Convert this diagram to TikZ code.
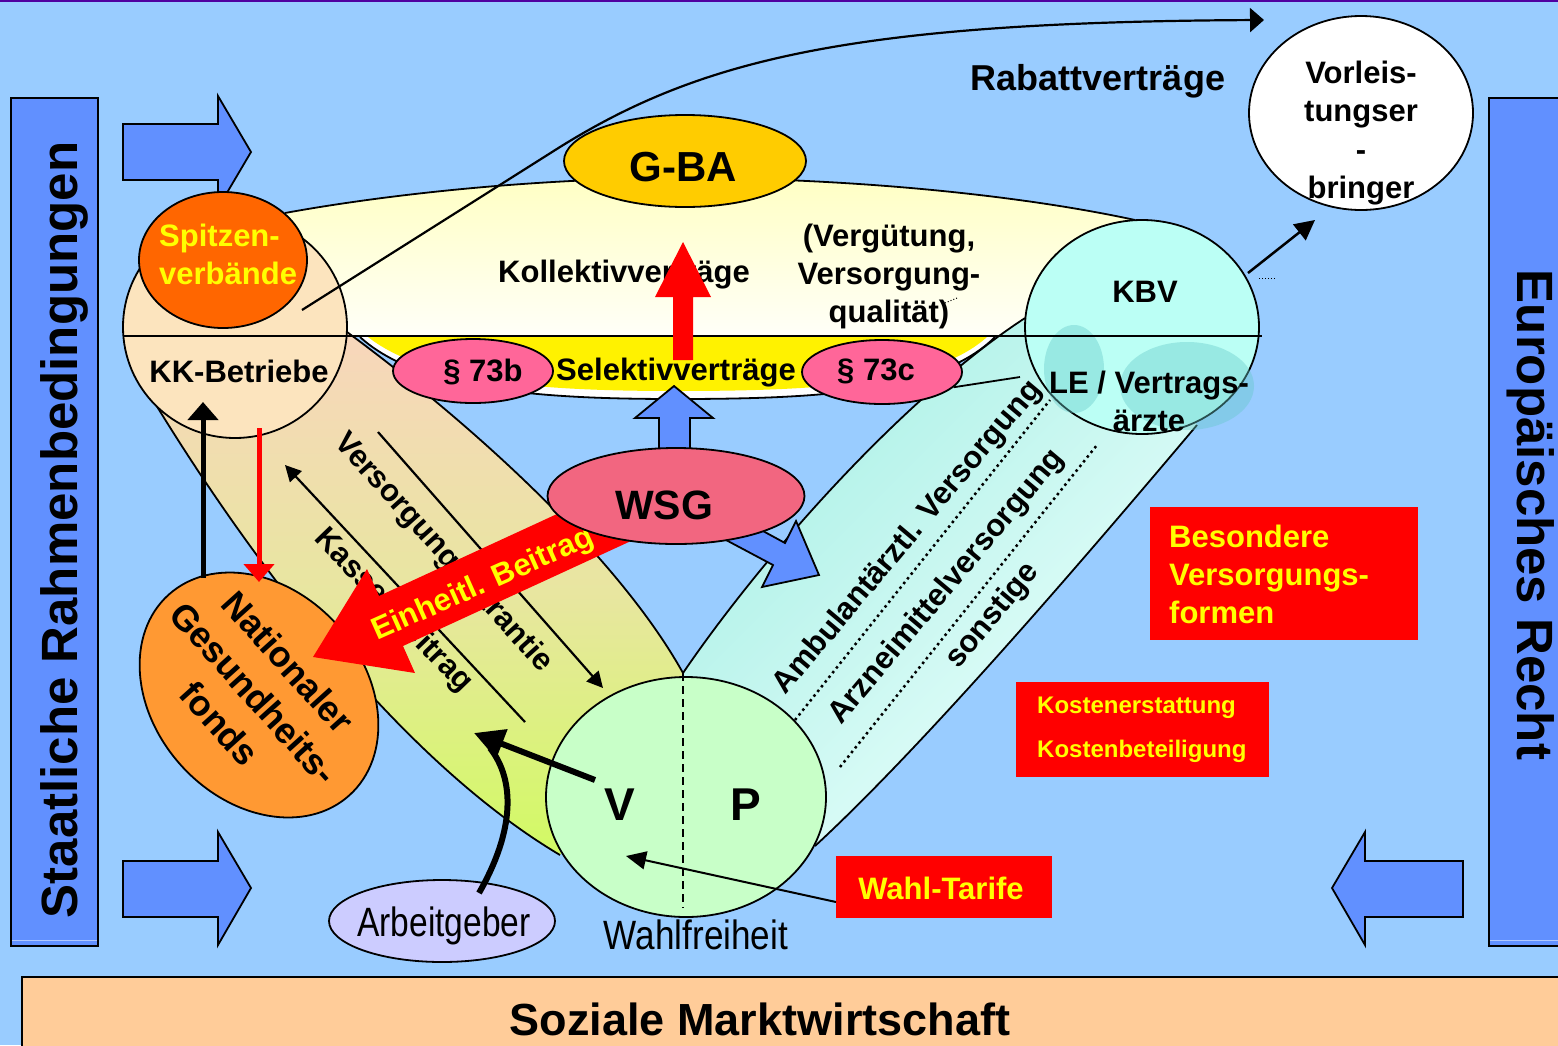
\documentclass[tikz,border=0pt]{standalone}
\usepackage{fontspec}
\setmainfont{Liberation Sans}
\usetikzlibrary{shapes.geometric,arrows.meta}
\definecolor{bgc}{RGB}{153,204,255}
\definecolor{barc}{RGB}{97,144,255}
\definecolor{gbac}{RGB}{255,204,0}
\definecolor{spitzc}{RGB}{255,102,0}
\definecolor{kkc}{RGB}{252,228,190}
\definecolor{parac}{RGB}{255,102,153}
\definecolor{wsgc}{RGB}{242,102,128}
\definecolor{kbvc}{RGB}{187,255,245}
\definecolor{vpc}{RGB}{200,255,200}
\definecolor{natc}{RGB}{255,153,51}
\definecolor{arbc}{RGB}{204,204,255}
\definecolor{sozc}{RGB}{255,204,153}
\definecolor{lensT}{RGB}{255,255,196}
\definecolor{lensB}{RGB}{255,255,248}
\definecolor{lbT}{RGB}{248,214,188}
\definecolor{lbM}{RGB}{232,230,160}
\definecolor{lbB}{RGB}{210,250,100}
\definecolor{rbT}{RGB}{170,240,230}
\definecolor{rbB}{RGB}{235,255,252}
\definecolor{blobc}{RGB}{100,200,200}
\definecolor{toplinec}{RGB}{80,0,160}
\definecolor{txtyel}{RGB}{255,255,0}
\newcommand\fA{\fontsize{31}{38}\selectfont\bfseries}
\newcommand\fN{\fontsize{39}{46}\selectfont\mdseries}
\tikzset{
  ol/.style={draw=black, line width=1.8pt},
  ell/.style={ellipse, ol, inner sep=0pt},
  tx/.style={font=\fA, inner sep=0pt},
  blockarrow/.style={fill=barc, draw=black, line width=1.8pt, line join=miter},
  thinarrow/.style={line width=2.2pt, -{Triangle[length=16pt,width=16pt]}},
  redbox/.style={fill=red, inner sep=0pt},
}
\begin{document}
\begin{tikzpicture}[x=1pt,y=-1pt]
\useasboundingbox (0,0) rectangle (1558,1045);
\clip (0,0) rectangle (1558,1045);
\fill[bgc] (0,0) rectangle (1558,1045);
\draw[toplinec, line width=2pt] (0,1) -- (1558,1);

% side bars
\draw[fill=barc, line width=1.5pt] (11,98) rectangle (98,946);
\draw[barc!50!white, line width=1pt] (12,940) -- (97,940);
\node[rotate=90, font=\fontsize{51}{60}\selectfont\bfseries, inner sep=0pt] (staat) at (64,530) {Staatliche Rahmenbedingungen};
\draw[fill=barc, line width=1.5pt] (1489,98) rectangle (1566,946);
\draw[barc!50!white, line width=1pt] (1490,940) -- (1558,940);
\node[rotate=-90, font=\fontsize{51}{60}\selectfont\bfseries, inner sep=0pt] (eur) at (1531,515) {Europäisches Recht};

% block arrows
\draw[blockarrow] (123,124) -- (218,124) -- (218,96) -- (251,152) -- (218,208) -- (218,180) -- (123,180) -- cycle;
\draw[blockarrow] (123,861) -- (218,861) -- (218,832) -- (251,888) -- (218,945) -- (218,917) -- (123,917) -- cycle;
\draw[blockarrow] (1463,861) -- (1365,861) -- (1365,832) -- (1332,888) -- (1365,945) -- (1365,917) -- (1463,917) -- cycle;

% bottom box
\draw[fill=sozc, line width=2pt] (22,977) rectangle (1570,1060);
\node[font=\fontsize{45}{54}\selectfont\bfseries, anchor=base, inner sep=0pt] (soz) at (760,1035) {Soziale Marktwirtschaft};

% upper lens (Kollektivvertraege)
\shade[top color=lensT, bottom color=lensB] (250,336) -- (250,222) -- (285,213) .. controls (400,192) and (550,178) .. (683,178) .. controls (850,178) and (1020,195) .. (1135,220) -- (1142,336) -- cycle;
\draw[line width=1.8pt] (285,213) .. controls (400,192) and (550,178) .. (683,178) .. controls (850,178) and (1020,195) .. (1135,220);
% lower lens (Selektivvertraege)
\draw[fill=white, line width=1.8pt] (360,337) .. controls (420,392) and (550,399) .. (676,399) .. controls (820,399) and (940,392) .. (995,337);
\fill[yellow] (368,337) .. controls (428,384) and (550,391) .. (676,391) .. controls (820,391) and (935,384) .. (987,337) -- cycle;

% right band
\shade[top color=rbT, bottom color=rbB, shading angle=45] (683,673) .. controls (760,560) and (900,400) .. (1025,318) -- (1142,330) -- (1197,425) .. controls (1100,540) and (930,740) .. (815,846) -- (700,760) -- cycle;
\draw[line width=1.8pt] (683,673) .. controls (760,560) and (900,400) .. (1025,318);
\draw[line width=1.8pt] (815,846) .. controls (930,740) and (1100,540) .. (1197,425);

% left band
\shade[top color=lbT, bottom color=lbB, middle color=lbM] (150,395) .. controls (250,560) and (400,760) .. (560,855) -- (640,760) -- (683,673) .. controls (620,560) and (480,430) .. (347,332) -- (235,330) -- cycle;
\draw[line width=1.8pt] (150,395) .. controls (250,560) and (400,760) .. (560,855);
\draw[line width=1.8pt] (683,673) .. controls (620,560) and (480,430) .. (347,332);

% left band arrows and texts
\coordinate (vgA) at (378,432); \coordinate (vgB) at (603,688);
\coordinate (kbA) at (525,722); \coordinate (kbB) at (285,465);
\draw[thinarrow] (vgA) -- (vgB);
\draw[thinarrow] (kbA) -- (kbB);
\node[tx, rotate=-48] (vg) at (443,553) {Versorgungsgarantie};
\node[tx, rotate=-46] (kb) at (393,611) {Kassenbeitrag};

% right band dotted lines and texts
\draw[line width=2.5pt, dash pattern=on 2.5pt off 3.5pt] (795,720) -- (1050,400);
\draw[line width=2.5pt, dash pattern=on 2.5pt off 3.5pt] (840,767) -- (1097,445);
\node[tx, rotate=50] (amb) at (908,538) {Ambulantärztl. Versorgung};
\node[tx, rotate=50] (arz) at (947,587) {Arzneimittelversorgung};
\node[tx, rotate=50] (son) at (993,616) {sonstige};

% KK circle, Spitzenverbaende
\node[ell, fill=kkc, minimum width=224pt, minimum height=222pt] (kk) at (235,327) {};
\node[ell, fill=spitzc, minimum width=168pt, minimum height=136pt] (spitz) at (223,260) {};
\node[tx, text=txtyel, align=left, anchor=west] (spitzt) at (159,254) {Spitzen-\\verbände};
\node[tx] (kkt) at (239,371) {KK-Betriebe};

% KBV circle
\node[ell, fill=kbvc, minimum width=234pt, minimum height=214pt] (kbv) at (1142,327) {};
\fill[blobc, opacity=0.4] (1074,369) ellipse [x radius=30, y radius=44];
\fill[blobc, opacity=0.4] (1187,386) ellipse [x radius=67, y radius=44];
\node[tx] (kbvt) at (1145,292) {KBV};
\node[tx, align=center] (le) at (1149,401) {LE / Vertrags-\\ärzte};

% horizontal divider
\coordinate (hlA) at (123,336); \coordinate (hlB) at (1262,336);
\draw[line width=2.5pt] (hlA) -- (hlB);

% G-BA
\node[ell, fill=gbac, minimum width=242pt, minimum height=92pt] (gba) at (685,161) {};
\node[font=\fontsize{42}{50}\selectfont\bfseries, inner sep=0pt] (gbat) at (683,167) {G-BA};
\node[tx] (koll) at (624,275) {Kollektivverträge};
\node[tx, align=center] (verg) at (889,276) {(Vergütung,\\Versorgung-\\qualität)};
\fill[red] (673,360) -- (673,297) -- (655,297) -- (683,242) -- (711,297) -- (693,297) -- (693,360) -- cycle;

% paragraphs
\node[ell, fill=parac, minimum width=160pt, minimum height=64pt] (p73b) at (473,371) {};
\node[tx] (p73bt) at (483,372) {§ 73b};
\node[ell, fill=parac, minimum width=160pt, minimum height=64pt] (p73c) at (882,372) {};
\node[tx] (p73ct) at (876,371) {§ 73c};
\node[tx] (sel) at (676,373) {Selektivverträge};
\coordinate (lew) at (1020,377);
\draw[line width=1.8pt] (p73c.-12) -- (lew);

% Nationaler Gesundheitsfonds
\node[ell, fill=natc, rotate=-48, minimum width=270pt, minimum height=210pt] (nat) at (259,695) {};
\node[font=\fontsize{36}{46}\selectfont\bfseries, rotate=-48, align=center, inner sep=0pt] (natt) at (254,693) {Nationaler\\Gesundheits-\\fonds};

% arrows between KK and fonds
\coordinate (upA) at (203,578); \coordinate (upB) at (203,402);
\coordinate (dnA) at (259,428); \coordinate (dnB) at (259,582);
\draw[line width=5pt, -{Triangle[length=18pt,width=30pt]}] (upA) -- (upB);
\draw[red, line width=5pt, -{Triangle[length=18pt,width=30pt]}] (dnA) -- (dnB);

% WSG arrows
\draw[blockarrow] (659,455) -- (659,418) -- (635,418) -- (674,386) -- (713,418) -- (690,418) -- (690,455) -- cycle;
\draw[blockarrow] (706,500) -- (785,543) -- (796,521) -- (819,575) -- (762,587) -- (773,565) -- (694,523) -- cycle;
\fill[red] (633,479) -- (379,596) -- (367,569) -- (313,657) -- (415,673) -- (403,646) -- (657,529) -- cycle;
\node[tx, text=txtyel, rotate=24] (ein) at (483,585) {Einheitl. Beitrag};
\node[ell, fill=wsgc, minimum width=257pt, minimum height=96pt] (wsg) at (676,496) {};
\node[font=\fontsize{41}{49}\selectfont\bfseries, inner sep=0pt] (wsgt) at (664,505) {WSG};

% V / P circle
\node[ell, fill=vpc, minimum width=280pt, minimum height=240pt] (vp) at (686,797) {};
\coordinate (dsA) at (683,673); \coordinate (dsB) at (683,908);
\draw[line width=1.8pt, dash pattern=on 8pt off 5pt] (dsA) -- (dsB);
\node[font=\fontsize{46}{55}\selectfont\bfseries, inner sep=0pt] (vt) at (620,805) {V};
\node[font=\fontsize{46}{55}\selectfont\bfseries, inner sep=0pt] (pt) at (746,805) {P};

% Arbeitgeber, Wahlfreiheit
\node[ell, fill=arbc, minimum width=226pt, minimum height=82pt] (arb) at (442,921) {};
\node[font=\fN, inner sep=0pt] (arbt) at (444,926) {\scalebox{0.86}[1.05]{Arbeitgeber}};
\node[font=\fN, inner sep=0pt] (wahlf) at (696,935) {\scalebox{0.9}[1.05]{Wahlfreiheit}};
\coordinate (agA) at (479,893); \coordinate (agB) at (490,748);
\coordinate (vA) at (595,780); \coordinate (vB) at (474,733);
\draw[line width=6pt] (agA) .. controls (515,830) and (515,780) .. (agB);
\draw[line width=6pt, -{Triangle[length=30pt,width=30pt]}] (vA) -- (vB);

% Wahl-Tarife
\node[redbox, minimum width=216pt, minimum height=62pt] (wt) at (944,887) {};
\node[tx, text=txtyel] (wtt) at (941,888) {Wahl-Tarife};
\coordinate (wtA) at (836,902); \coordinate (wtB) at (626,856);
\draw[line width=2pt, -{Triangle[length=20pt,width=18pt]}] (wtA) -- (wtB);

% Kosten box
\node[redbox, minimum width=253pt, minimum height=95pt] (kost) at (1142.5,729.5) {};
\node[font=\fontsize{24}{44}\selectfont\bfseries, text=txtyel, align=left, anchor=west, inner sep=0pt] (kostt) at (1037,730) {Kostenerstattung\\Kostenbeteiligung};

% Besondere Versorgungsformen
\node[redbox, minimum width=268pt, minimum height=133pt] (bes) at (1284,573.5) {};
\node[tx, text=txtyel, align=left, anchor=west] (best) at (1169,574) {Besondere\\Versorgungs-\\formen};

% Vorleistungserbringer
\node[ell, fill=white, minimum width=224pt, minimum height=194pt] (vor) at (1361,113) {};
\node[font=\fontsize{31}{38.5}\selectfont\bfseries, align=center, inner sep=0pt] (vort) at (1361,133) {Vorleis-\\tungser\\-\\bringer};
\node[font=\fontsize{36}{43}\selectfont\bfseries, inner sep=0pt] (rab) at (1098,81) {Rabattverträge};
\coordinate (kvA) at (1248,273); \coordinate (kvB) at (1315,220);
\draw[line width=2.5pt, -{Triangle[length=20pt,width=20pt]}] (kvA) -- (kvB);

% top curved arrow
\coordinate (tcA) at (302,310); \coordinate (tcB) at (1264,20);
\draw[line width=2.2pt, -{Triangle[length=14pt,width=24pt]}] (tcA) -- (560,147) .. controls (700,60) and (850,22) .. (tcB);

% small dotted marks
\draw[dotted, line width=1pt] (1259,278) -- (1277,278);
\draw[dotted, line width=1pt] (945,303) -- (957,298);
\end{tikzpicture}
\end{document}
